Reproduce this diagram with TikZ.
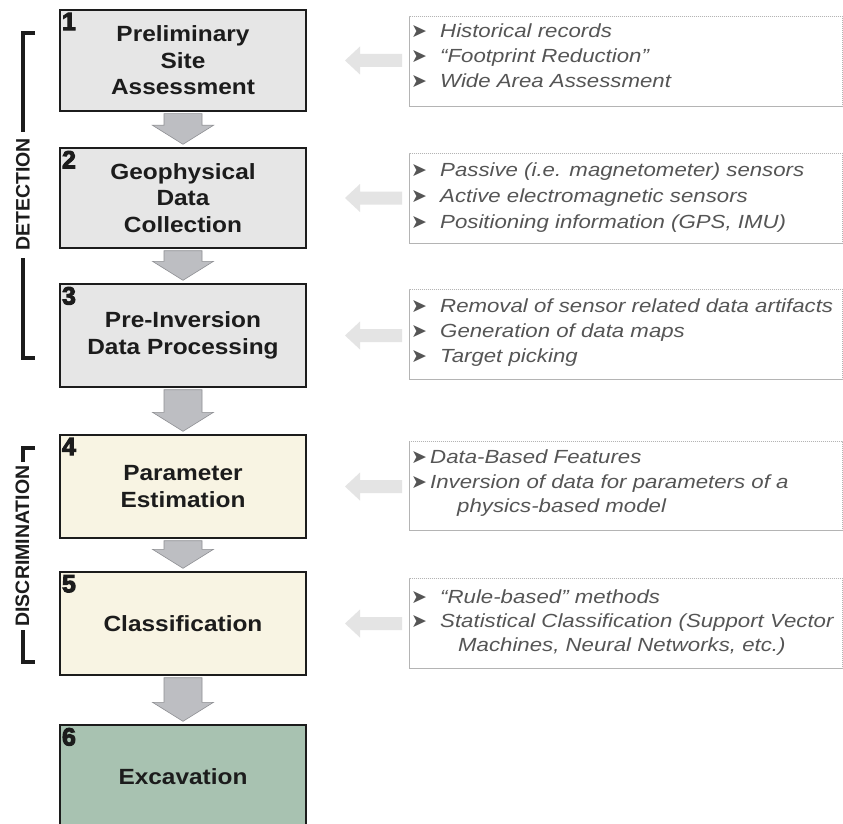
\documentclass[tikz,border=0pt]{standalone}
\usepackage{fontspec}
\setmainfont{Liberation Sans}
\newfontfamily\boxfont{Liberation Sans}[FakeStretch=1.11]
\newfontfamily\notefont{Liberation Sans}[FakeStretch=1.17]
\newfontfamily\numfont{Liberation Sans}[FakeBold=4]
\newfontfamily\symfont{DejaVu Sans}
\usetikzlibrary{calc}
\definecolor{boxgray}{HTML}{E6E6E6}
\definecolor{boxcream}{HTML}{F8F4E3}
\definecolor{boxgreen}{HTML}{A8C2B1}
\definecolor{arrgray}{HTML}{BDBEC2}
\definecolor{arredge}{HTML}{8E8F93}
\definecolor{notegray}{HTML}{555555}
\definecolor{noteedge}{HTML}{B4B4B4}
\definecolor{lightarr}{HTML}{E4E4E4}
\definecolor{ink}{HTML}{1C1C1C}
\tikzset{
 mainbox/.style={draw=ink, line width=2.4pt, minimum width=246pt, inner sep=0pt, align=center,
   font=\boxfont\bfseries\fontsize{22}{26.5}\selectfont, text=ink},
 numlabel/.style={anchor=north west, inner sep=0pt, font=\numfont\bfseries\fontsize{25}{25}\selectfont, text=ink},
 notebox/.style={draw=noteedge, line width=0.7pt, dash pattern=on 1.2pt off 0.8pt, anchor=north west,
   minimum width=433pt, inner sep=0pt},
 notetext/.style={anchor=base west, inner sep=0pt, font=\notefont\itshape\fontsize{19}{19}\selectfont, text=notegray},
 bulletmark/.style={anchor=base west, inner sep=0pt, font=\symfont\fontsize{19}{19}\selectfont, text=notegray},
 flowarrow/.style={fill=arrgray, draw=arredge, line width=0.6pt},
 sidearrow/.style={fill=lightarr},
 grouplabel/.style={rotate=90, inner sep=0pt, font=\bfseries\fontsize{19.5}{19.5}\selectfont, text=ink},
 bracket/.style={line width=4pt, draw=ink, line join=miter, line cap=butt}
}
\newcommand\flowarr[2]{%
 \filldraw[flowarrow] let \p1=(#1.south), \p2=(#2.north) in
  (\x1-19pt,\y1-1.5pt) -- (\x1+19pt,\y1-1.5pt) -- (\x1+19pt,\y2+21.5pt) -- (\x1+30.5pt,\y2+21.5pt)
  -- (\x1,\y2+2.5pt) -- (\x1-30.5pt,\y2+21.5pt) -- (\x1-19pt,\y2+21.5pt) -- cycle;}
\newcommand\sidearr[1]{%
 \fill[sidearrow] let \p1=(#1.center) in
  (345pt,\y1) -- (360pt,\y1+14pt) -- (360pt,\y1+6.5pt) -- (402pt,\y1+6.5pt) -- (402pt,\y1-6.5pt)
  -- (360pt,\y1-6.5pt) -- (360pt,\y1-14pt) -- cycle;}
\begin{document}
\begin{tikzpicture}[x=1pt,y=-1pt]
\useasboundingbox (0,0) rectangle (843,824);
\fill[white] (0,0) rectangle (843,824);

% main boxes
\node[mainbox, fill=boxgray, minimum height=101pt] (b1) at (183,60.5) {Preliminary\\Site\\Assessment};
\node[mainbox, fill=boxgray, minimum height=100pt] (b2) at (183,198) {Geophysical\\Data\\Collection};
\node[mainbox, fill=boxgray, minimum height=103pt] (b3) at (183,335.5) {Pre-Inversion\\Data Processing};
\node[mainbox, fill=boxcream, minimum height=103pt] (b4) at (183,486.5) {Parameter\\Estimation};
\node[mainbox, fill=boxcream, minimum height=103pt] (b5) at (183,623.5) {Classification};
\node[mainbox, fill=boxgreen, minimum height=104pt] (b6) at (183,777) {Excavation};

\node[numlabel] (n1) at ([xshift=3pt,yshift=-4pt]b1.north west) {1};
\node[numlabel] (n2) at ([xshift=3pt,yshift=-4pt]b2.north west) {2};
\node[numlabel] (n3) at ([xshift=3pt,yshift=-4pt]b3.north west) {3};
\node[numlabel] (n4) at ([xshift=3pt,yshift=-4pt]b4.north west) {4};
\node[numlabel] (n5) at ([xshift=3pt,yshift=-4pt]b5.north west) {5};
\node[numlabel] (n6) at ([xshift=3pt,yshift=-4pt]b6.north west) {6};

% flow arrows
\flowarr{b1}{b2}
\flowarr{b2}{b3}
\flowarr{b3}{b4}
\flowarr{b4}{b5}
\flowarr{b5}{b6}

% note boxes
\node[notebox, minimum height=90pt] (nA) at (409,16) {};
\node[notebox, minimum height=90pt] (nB) at (409,153) {};
\node[notebox, minimum height=90pt] (nC) at (409,289) {};
\node[notebox, minimum height=89pt] (nD) at (409,441) {};
\node[notebox, minimum height=90pt] (nE) at (409,578) {};

\sidearr{b1}
\sidearr{b2}
\sidearr{b3}
\sidearr{b4}
\sidearr{b5}

% note texts
\node[bulletmark] (a1m) at (411,38) {➤};
\node[notetext] (a1) at (440,38) {Historical records};
\node[bulletmark] (a2m) at (411,63) {➤};
\node[notetext] (a2) at (440,63) {“Footprint Reduction”};
\node[bulletmark] (a3m) at (411,88) {➤};
\node[notetext] (a3) at (440,88) {Wide Area Assessment};

\node[bulletmark] (b1m) at (411,176) {➤};
\node[notetext] (bt1) at (440,176) {Passive (i.e. magnetometer) sensors};
\node[bulletmark] (b2m) at (411,202) {➤};
\node[notetext] (bt2) at (440,202) {Active electromagnetic sensors};
\node[bulletmark] (b3m) at (411,228) {➤};
\node[notetext] (bt3) at (440,228) {Positioning information (GPS, IMU)};

\node[bulletmark] (c1m) at (411,312) {➤};
\node[notetext] (c1) at (440,312) {Removal of sensor related data artifacts};
\node[bulletmark] (c2m) at (411,337) {➤};
\node[notetext] (c2) at (440,337) {Generation of data maps};
\node[bulletmark] (c3m) at (411,362) {➤};
\node[notetext] (c3) at (440,362) {Target picking};

\node[bulletmark] (d1m) at (411,463.5) {➤};
\node[notetext] (d1) at (430,463.5) {Data-Based Features};
\node[bulletmark] (d2m) at (411,488) {➤};
\node[notetext] (d2) at (430,488) {Inversion of data for parameters of a};
\node[notetext] (d3) at (457,512) {physics-based model};

\node[bulletmark] (e1m) at (411,603) {➤};
\node[notetext] (e1) at (440,603) {“Rule-based” methods};
\node[bulletmark] (e2m) at (411,627) {➤};
\node[notetext] (e2) at (440,627) {Statistical Classification (Support Vector};
\node[notetext] (e3) at (458,651) {Machines, Neural Networks, etc.)};

% group brackets
\node[grouplabel] (det) at (23,194.5) {DETECTION};
\draw[bracket] (35,33) -- (23,33) -- (23,132);
\draw[bracket] (23,258) -- (23,358) -- (35,358);
\node[grouplabel] (disc) at (22.5,546) {DISCRIMINATION};
\draw[bracket] (35,448) -- (23,448) -- (23,462);
\draw[bracket] (23,630) -- (23,662) -- (35,662);
\end{tikzpicture}
\end{document}
